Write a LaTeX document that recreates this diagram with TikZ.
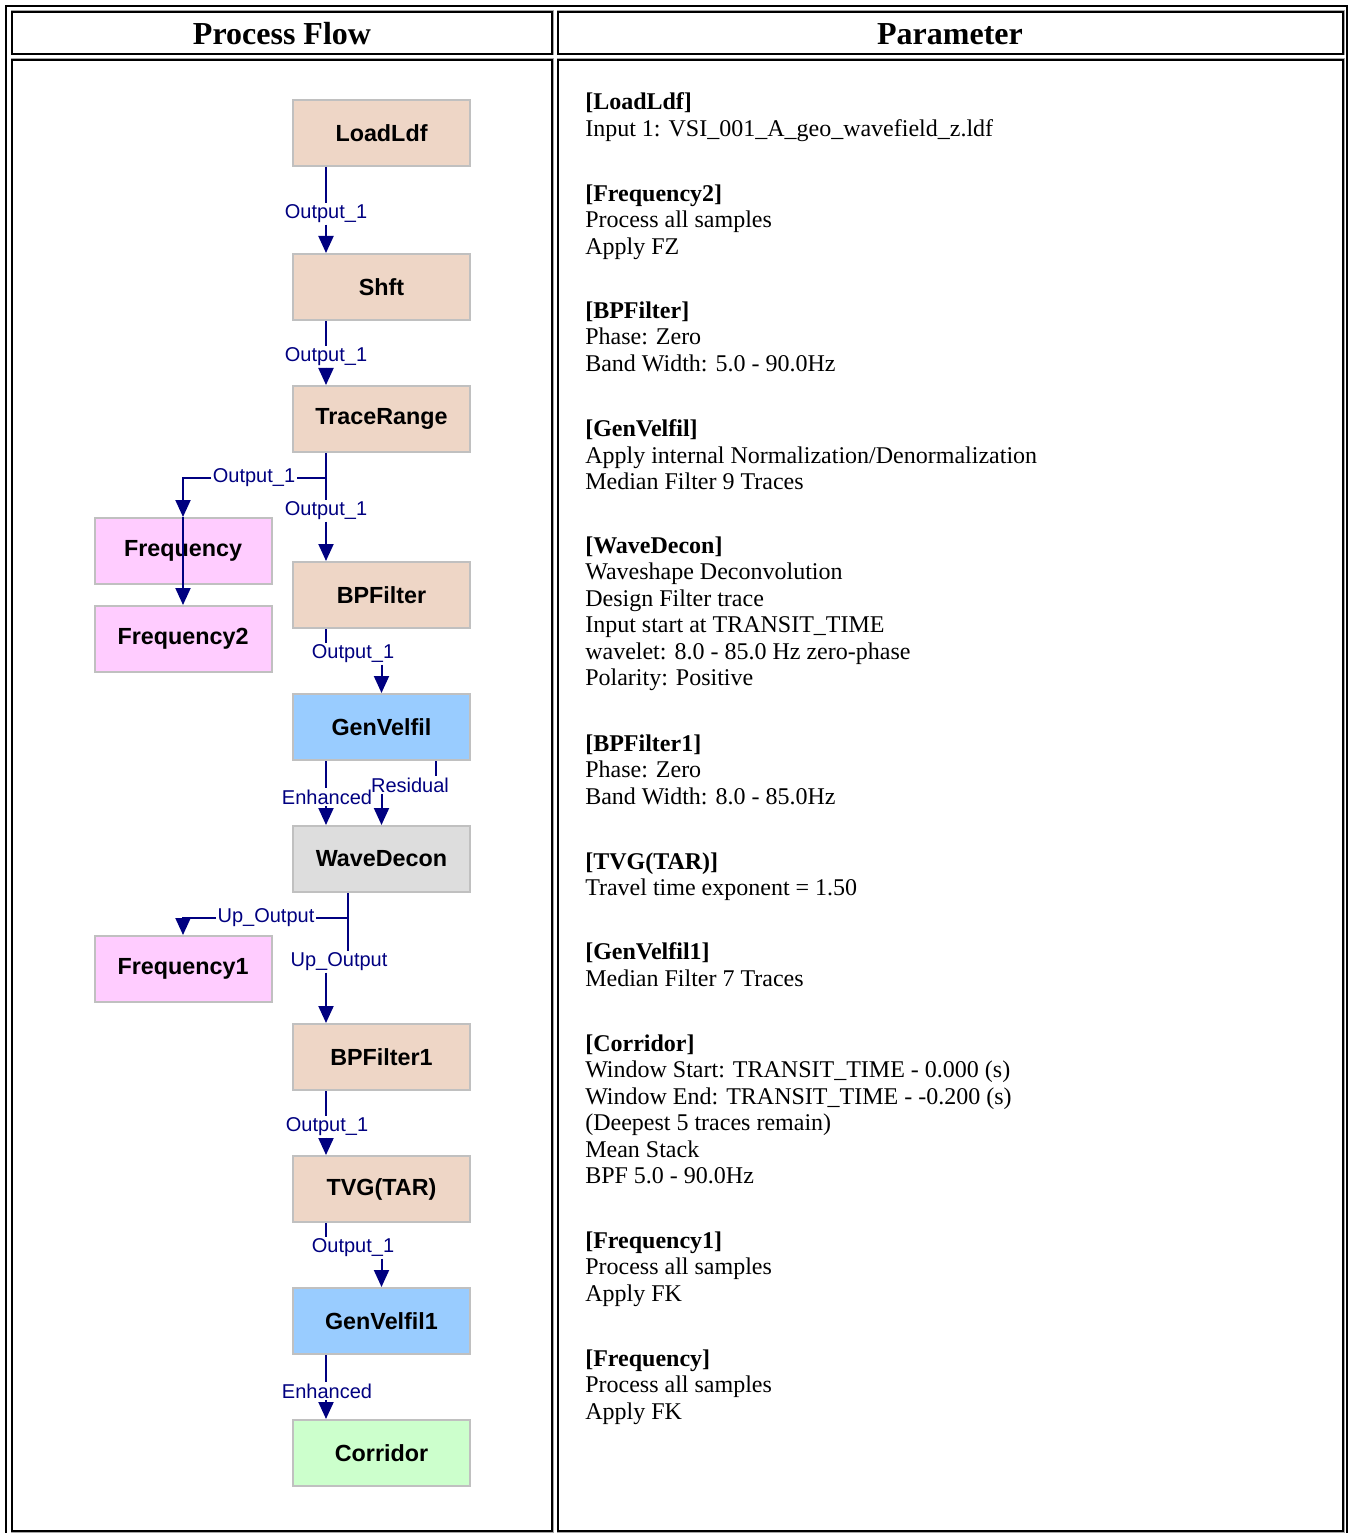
\documentclass[tikz,border=0pt]{standalone}
\usepackage{fontspec}
\setmainfont{Liberation Serif}
\setsansfont{Liberation Sans}
\usetikzlibrary{arrows.meta,calc}

\definecolor{procfill}{HTML}{EED6C6}
\definecolor{freqfill}{HTML}{FFCCFF}
\definecolor{velfill}{HTML}{99CCFF}
\definecolor{decfill}{HTML}{DDDDDD}
\definecolor{corrfill}{HTML}{CCFFCC}
\definecolor{boxgray}{HTML}{C0C0C0}
\definecolor{navy}{HTML}{000080}

\begin{document}
\begin{tikzpicture}[x=0.75pt,y=-0.75pt,>={Triangle[length=12.75pt,width=11.25pt]},
modul/.style ={rectangle, draw=boxgray, line width=1.5pt, minimum width=132.75pt, minimum height=49.5pt, inner sep=0pt, font=\fontsize{17.5}{20}\selectfont\sffamily\bfseries},
proc/.style ={modul, fill=procfill},
freq/.style ={modul, fill=freqfill},
vel/.style ={modul, fill=velfill},
dec/.style ={modul, fill=decfill},
corr/.style ={modul, fill=corrfill},
edge/.style ={draw=navy, line width=1.5pt},
etiq/.style ={text=navy, inner sep=1pt, yshift=-2.25pt, font=\fontsize{15}{17}\selectfont\sffamily},
cell/.style ={draw=black, line width=1.5pt},
cellrim/.style ={draw=black!35, line width=0.75pt},
head/.style ={font=\fontsize{24}{28}\selectfont\bfseries},
parm/.style ={anchor=north west, inner sep=0pt, yshift=-1.5pt, align=left, font=\fontsize{18}{19.8}\selectfont}
]
\useasboundingbox (0,0) rectangle (1349,1533);
\clip (0,0) rectangle (1349,1533);

% table
\draw[line width=1.5pt] (6,6) rectangle (1347,1540);
\draw[cellrim] (11,11) rectangle (553,55);
\draw[cellrim] (557,11) rectangle (1344,55);
\draw[cellrim] (11,59) rectangle (553,1532);
\draw[cellrim] (557,59) rectangle (1344,1532);
\draw[cell] (12,12) rectangle (552,54);
\draw[cell] (558,12) rectangle (1343,54);
\draw[cell] (12,60) rectangle (552,1531);
\draw[cell] (558,60) rectangle (1343,1531);
\draw (282,34) node[head] (H1) {Process Flow};
\draw (950,34) node[head] (H2) {Parameter};

% modules
\draw (381.5,133) node[proc] (LD) {LoadLdf};
\draw (381.5,287) node[proc] (SH) {Shft};
\draw (381.5,419) node[proc] (TR) {TraceRange};
\draw (183,551) node[freq] (FR) {Frequency};
\draw (183,639) node[freq] (FR2) {Frequency2};
\draw (381.5,595) node[proc] (BP) {BPFilter};
\draw (381.5,727) node[vel] (GV) {GenVelfil};
\draw (381.5,859) node[dec] (WD) {WaveDecon};
\draw (183,969) node[freq] (F1) {Frequency1};
\draw (381.5,1057) node[proc] (BP1) {BPFilter1};
\draw (381.5,1189) node[proc] (TVG) {TVG(TAR)};
\draw (381.5,1321) node[vel] (GV1) {GenVelfil1};
\draw (381.5,1453) node[corr] (CO) {Corridor};

% edge labels
\coordinate (c1) at (326,0);
\coordinate (c2) at (348,0);
\coordinate (c3) at (436,0);
\draw (326,211) node[etiq] (l1) {Output\_1};
\draw (326,354) node[etiq] (l2) {Output\_1};
\draw (254,475) node[etiq] (l3) {Output\_1};
\draw (326,508) node[etiq] (l4) {Output\_1};
\draw (353,651) node[etiq] (l5) {Output\_1};
\draw (327,794) node[etiq] (l6) {Enhanced};
\draw (410,782) node[etiq] (l7) {Residual};
\draw (266,915) node[etiq] (l8) {Up\_Output};
\draw (339,959) node[etiq] (l9) {Up\_Output};
\draw (327,1124) node[etiq] (l10) {Output\_1};
\draw (353,1245) node[etiq] (l11) {Output\_1};
\draw (327,1388) node[etiq] (l12) {Enhanced};

% connectors
\draw[edge] (LD.south -| c1) -- (c1 |- l1.north);
\draw[edge,->] (c1 |- l1.south) -- (SH.north -| c1);
\draw[edge] (SH.south -| c1) -- (c1 |- l2.north);
\draw[edge,->] (c1 |- l2.south) -- (TR.north -| c1);
\draw[edge] (TR.south -| c1) -- (c1 |- l4.north);
\draw[edge,->] (c1 |- l4.south) -- (BP.north -| c1);
\draw[edge] (c1 |- l3) -- (l3.east);
\draw[edge,->] (l3.west) -| (FR.north);
\draw[edge,->] (FR.north) -- (FR2.north);
\draw[edge] (BP.south -| c1) -- (c1 |- l5.north);
\draw[edge,->] (l5.south -| GV) -- (GV.north);
\draw[edge] (GV.south -| c1) -- (c1 |- l6.north);
\draw[edge,->] (c1 |- l6.south) -- (WD.north -| c1);
\draw[edge] (GV.south -| c3) -- (c3 |- l7.north);
\draw[edge,->] (l7.south -| WD) -- (WD.north);
\draw[edge] (WD.south -| c2) -- (c2 |- l9.north);
\draw[edge] (c2 |- l8) -- (l8.east);
\draw[edge,->] (l8.west) -| (F1.north);
\draw[edge,->] (l9.south -| c1) -- (BP1.north -| c1);
\draw[edge] (BP1.south -| c1) -- (c1 |- l10.north);
\draw[edge,->] (c1 |- l10.south) -- (TVG.north -| c1);
\draw[edge] (TVG.south -| c1) -- (c1 |- l11.north);
\draw[edge,->] (l11.south -| GV1) -- (GV1.north);
\draw[edge] (GV1.south -| c1) -- (c1 |- l12.north);
\draw[edge,->] (c1 |- l12.south) -- (CO.north -| c1);

% parameters
\draw (585,90.5) node[parm] (pLD) {\textbf{[LoadLdf]}\\Input 1: VSI\_001\_A\_geo\_wavefield\_z.ldf};
\draw (585,182.5) node[parm] (pFR2) {\textbf{[Frequency2]}\\Process all samples\\Apply FZ};
\draw (585,299.5) node[parm] (pBP) {\textbf{[BPFilter]}\\Phase: Zero\\Band Width: 5.0 - 90.0Hz};
\draw (585,417.5) node[parm] (pGV) {\textbf{[GenVelfil]}\\Apply internal Normalization/Denormalization\\Median Filter 9 Traces};
\draw (585,534.5) node[parm] (pWD) {\textbf{[WaveDecon]}\\Waveshape Deconvolution\\Design Filter trace\\Input start at TRANSIT\_TIME\\wavelet: 8.0 - 85.0 Hz zero-phase\\Polarity: Positive};
\draw (585,732.5) node[parm] (pBP1) {\textbf{[BPFilter1]}\\Phase: Zero\\Band Width: 8.0 - 85.0Hz};
\draw (585,850.5) node[parm] (pTVG) {\textbf{[TVG(TAR)]}\\Travel time exponent = 1.50};
\draw (585,940.5) node[parm] (pGV1) {\textbf{[GenVelfil1]}\\Median Filter 7 Traces};
\draw (585,1032.5) node[parm] (pCO) {\textbf{[Corridor]}\\Window Start: TRANSIT\_TIME - 0.000 (s)\\Window End: TRANSIT\_TIME - -0.200 (s)\\(Deepest 5 traces remain)\\Mean Stack\\BPF 5.0 - 90.0Hz};
\draw (585,1229.5) node[parm] (pF1) {\textbf{[Frequency1]}\\Process all samples\\Apply FK};
\draw (585,1347.5) node[parm] (pFR) {\textbf{[Frequency]}\\Process all samples\\Apply FK};

\end{tikzpicture}
\end{document}
